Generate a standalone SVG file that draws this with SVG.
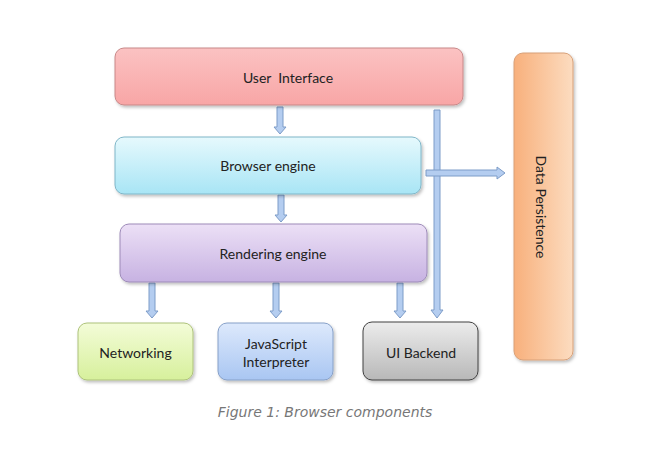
<svg xmlns="http://www.w3.org/2000/svg" width="657" height="464" viewBox="0 0 657 464">
<style>
  .lbl { font-family: Lato, "Open Sans", "Liberation Sans", sans-serif; font-size: 14px; fill: #222; text-anchor: middle; dominant-baseline: central; }
  .cap { font-family: "DejaVu Sans", sans-serif; font-style: italic; font-size: 14px; fill: #777; text-anchor: middle; }
  .arr { fill: #b4cdf0; stroke: #7d9cc8; stroke-width: 1; stroke-linejoin: round; }
</style>
<defs>
  <linearGradient id="gUI" x1="0" y1="0" x2="0" y2="1"><stop offset="0" stop-color="#fbc2c2"/><stop offset="1" stop-color="#f8a6a6"/></linearGradient>
  <linearGradient id="gBE" x1="0" y1="0" x2="0" y2="1"><stop offset="0" stop-color="#e6f9fd"/><stop offset="1" stop-color="#a8e5f5"/></linearGradient>
  <linearGradient id="gRE" x1="0" y1="0" x2="0" y2="1"><stop offset="0" stop-color="#ece0f6"/><stop offset="1" stop-color="#c7b2e2"/></linearGradient>
  <linearGradient id="gNW" x1="0" y1="0" x2="0" y2="1"><stop offset="0" stop-color="#f3fcd8"/><stop offset="1" stop-color="#d7f09c"/></linearGradient>
  <linearGradient id="gJS" x1="0" y1="0" x2="0" y2="1"><stop offset="0" stop-color="#dde9fc"/><stop offset="1" stop-color="#a9c6f2"/></linearGradient>
  <linearGradient id="gUB" x1="0" y1="0" x2="0" y2="1"><stop offset="0" stop-color="#ececec"/><stop offset="1" stop-color="#b8b8b8"/></linearGradient>
  <linearGradient id="gDP" x1="0" y1="0" x2="1" y2="0"><stop offset="0" stop-color="#f8b07c"/><stop offset="1" stop-color="#fcdcc0"/></linearGradient>
  <filter id="sh" x="-10%" y="-10%" width="130%" height="140%">
    <feDropShadow dx="1.5" dy="2" stdDeviation="1.5" flood-color="#000" flood-opacity="0.25"/>
  </filter>
</defs>
<rect width="657" height="464" fill="#ffffff"/>

<g id="connectors">
  <path class="arr" d="M277,107 H283 V127 H286 L280,134 L274,127 H277 Z"/>
  <path class="arr" d="M278,195 H284 V215 H287 L281,222 L275,215 H278 Z"/>
  <path class="arr" d="M434,110 H440 V310 H443 L437,318 L431,310 H434 Z"/>
  <path class="arr" d="M426,170 H497 V167 L505,173 L497,179 V176 H426 Z"/>
  <path class="arr" d="M149,283 H155 V311 H158 L152,318 L146,311 H149 Z"/>
  <path class="arr" d="M273,283 H279 V311 H282 L276,318 L270,311 H273 Z"/>
  <path class="arr" d="M397,283 H403 V311 H406 L400,318 L394,311 H397 Z"/>
</g>

<g id="user-interface">
  <rect x="115" y="48" width="348" height="57" rx="9" fill="url(#gUI)" stroke="#c88888" stroke-width="1" filter="url(#sh)"/>
  <text class="lbl" x="288" y="77" xml:space="preserve">User  Interface</text>
</g>
<g id="browser-engine">
  <rect x="115" y="137" width="306" height="57" rx="9" fill="url(#gBE)" stroke="#7fb6c8" stroke-width="1" filter="url(#sh)"/>
  <text class="lbl" x="268" y="165">Browser engine</text>
</g>
<g id="rendering-engine">
  <rect x="120" y="224" width="307" height="58" rx="9" fill="url(#gRE)" stroke="#9d8ab8" stroke-width="1" filter="url(#sh)"/>
  <text class="lbl" x="273" y="253">Rendering engine</text>
</g>
<g id="networking">
  <rect x="78" y="323" width="115" height="57" rx="9" fill="url(#gNW)" stroke="#adc27a" stroke-width="1" filter="url(#sh)"/>
  <text class="lbl" x="135.5" y="352">Networking</text>
</g>
<g id="javascript-interpreter">
  <rect x="218" y="323" width="115" height="57" rx="9" fill="url(#gJS)" stroke="#86a0c8" stroke-width="1" filter="url(#sh)"/>
  <text class="lbl" x="276" y="343">JavaScript</text>
  <text class="lbl" x="276" y="361">Interpreter</text>
</g>
<g id="ui-backend">
  <rect x="363" y="322" width="115" height="58" rx="9" fill="url(#gUB)" stroke="#404040" stroke-width="1" filter="url(#sh)"/>
  <text class="lbl" x="421" y="352">UI Backend</text>
</g>
<g id="data-persistence">
  <rect x="514" y="53" width="59" height="307" rx="9" fill="url(#gDP)" stroke="#d8a078" stroke-width="1" filter="url(#sh)"/>
  <text class="lbl" x="0" y="0" transform="translate(541,207) rotate(90)">Data Persistence</text>
</g>

<text class="cap" x="325" y="417">Figure 1: Browser components</text>
</svg>
